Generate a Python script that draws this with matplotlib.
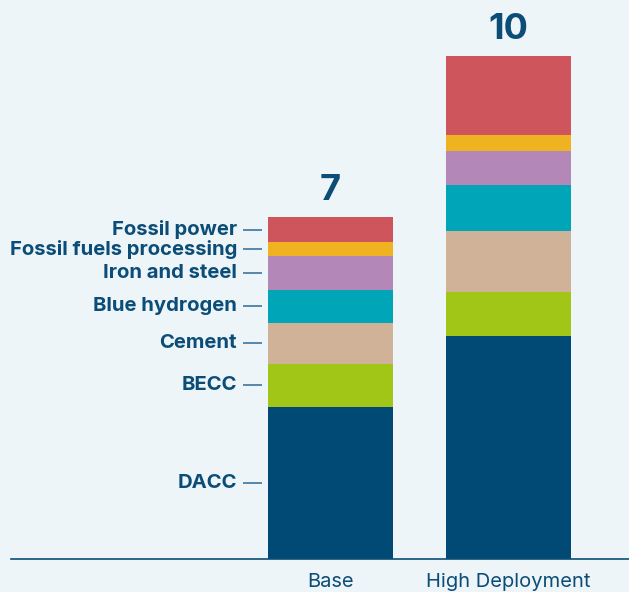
import numpy as np
import matplotlib.pyplot as plt

plt.rcParams['font.family'] = ['Inter', 'DejaVu Sans']

scenarios = ["Base", "High Deployment"]
sectors = ["DACC", "BECC", "Cement", "Blue hydrogen", "Iron and steel",
           "Fossil fuels processing", "Fossil power"]
base = [3.03, 0.86, 0.82, 0.64, 0.68, 0.28, 0.50]
high = [4.44, 0.88, 1.22, 0.90, 0.68, 0.32, 1.57]
totals = [7, 10]
colors = ["#004a75", "#a2c617", "#cfb297", "#00a6b7", "#b388b8", "#efb322", "#cd555b"]

navy = "#0b4d77"
bg = "#edf5f9"

fig = plt.figure(figsize=(6.29, 5.92), dpi=100)
fig.patch.set_facecolor(bg)
ax = fig.add_axes([11 / 629, 33 / 592, 618 / 629, 559 / 592])
ax.set_facecolor(bg)

x = np.arange(len(scenarios))
width = 0.702
vals = np.array([base, high])
bottom = np.zeros(2)
for i, name in enumerate(sectors):
    ax.bar(x, vals[:, i], width, bottom=bottom, color=colors[i], linewidth=0)
    bottom += vals[:, i]

for xi, tot, top in zip(x, totals, bottom):
    ax.text(xi, top + 0.2, str(tot), ha="center", va="bottom",
            fontsize=26, fontweight="bold", color=navy)

# labels on the left of the base bar
left = x[0] - width / 2
cum = np.concatenate([[0], np.cumsum(base)])
for i, name in enumerate(sectors):
    yc = (cum[i] + cum[i + 1]) / 2
    ax.plot([left - 0.14, left - 0.035], [yc, yc], color="#4a7fa5", lw=1.3,
            solid_capstyle="butt")
    ax.text(left - 0.175, yc, name, ha="right", va="center",
            fontsize=14.6, fontweight="bold", color=navy)

ax.set_xlim(-1.795, 1.677)
ax.set_ylim(0, 11.135)
for s in ["top", "right", "left"]:
    ax.spines[s].set_visible(False)
ax.spines["bottom"].set_color(navy)
ax.spines["bottom"].set_linewidth(1.2)
ax.set_yticks([])
ax.set_xticks(x)
ax.set_xticklabels(scenarios, fontsize=14.5, color=navy)
ax.tick_params(axis="x", length=0, pad=10)

fig.savefig("out.png", dpi=100, facecolor=bg)
